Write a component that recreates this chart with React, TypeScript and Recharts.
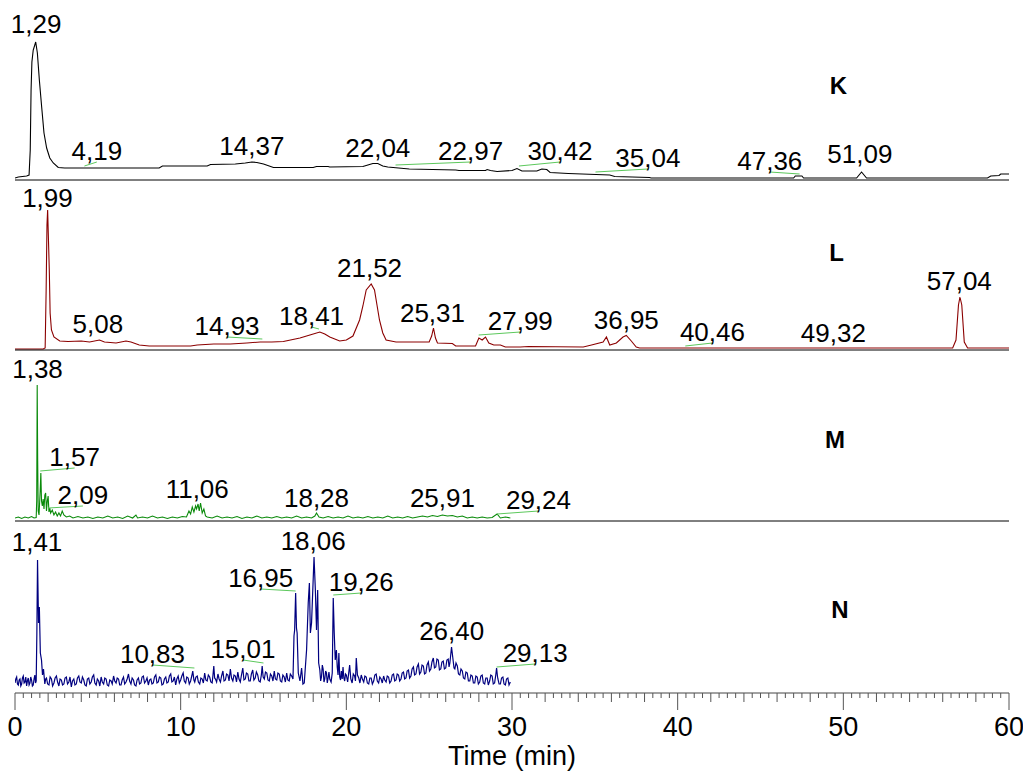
import React from 'react';
import { LineChart, Line, XAxis, YAxis, ReferenceLine, ReferenceDot } from 'recharts';

// ---------- DATA (time in min, signal in relative units) ----------
const traceK: [number, number][] = [
  [0, 2], [0.2, 3], [0.7, 4], [0.85, 5], [0.92, 30], [0.97, 90], [1.02, 118], [1.1, 130], [1.25, 138],
  [1.35, 127], [1.47, 100], [1.61, 73], [1.75, 47], [1.91, 32], [2.1, 22], [2.31, 17], [2.61, 12.5],
  [3.0, 12], [5, 12], [8.7, 12], [8.9, 14], [11.6, 14], [11.8, 15.5], [13.3, 16], [13.9, 17], [14.3, 18],
  [14.6, 17.5], [15.0, 16], [15.6, 12.5], [18.0, 12.5], [18.2, 13.5], [18.9, 13.5], [19.0, 13], [21.0, 13.5],
  [21.3, 15], [21.6, 16.5], [21.9, 16.5], [22.2, 14], [22.5, 13], [23.8, 11], [26.6, 10], [26.8, 9.5],
  [28.4, 9.5], [28.5, 10.5], [28.7, 9.5], [29.1, 8.5], [30.0, 9.5], [30.3, 11.5], [30.6, 9], [31.5, 9],
  [31.8, 11], [32.1, 10.5], [32.3, 7.5], [33.4, 6.5], [35.9, 5], [36.2, 3.5], [38.3, 2.5], [38.4, 2],
  [47.0, 2], [47.1, 4], [47.5, 4], [47.6, 2], [50.8, 2], [51.1, 8], [51.4, 2], [58.7, 2], [58.9, 4],
  [59.4, 4.5], [59.5, 6], [60, 6],
];

const traceL: [number, number][] = [
  [0, 1], [1.7, 1], [1.82, 2], [1.88, 60], [1.93, 125], [1.97, 140], [2.02, 110], [2.07, 80], [2.12, 37],
  [2.2, 20], [2.35, 13], [2.7, 9], [3.2, 8.5], [4.0, 9], [4.5, 8], [5.1, 10], [5.4, 8], [6.1, 7], [6.7, 9],
  [7.0, 8], [7.5, 5], [8.1, 4], [10.6, 4], [11.0, 5], [12.0, 6], [13.0, 6], [14.0, 7], [14.8, 8], [15.5, 8],
  [16.2, 8.5], [17.2, 12], [17.8, 15], [18.4, 18], [18.7, 16], [19.0, 13], [19.6, 9], [20.0, 10], [20.4, 14],
  [20.8, 30], [21.0, 44], [21.2, 60], [21.5, 66], [21.7, 60], [21.85, 45], [22.0, 30], [22.2, 17], [22.4, 10],
  [23.0, 8], [25.0, 8], [25.15, 14], [25.26, 22], [25.38, 12], [25.5, 7], [26.4, 6.5], [26.6, 4], [27.8, 4],
  [28.0, 12], [28.2, 10], [28.4, 13], [28.6, 7], [28.9, 5], [29.3, 5], [29.6, 3], [30.5, 3], [31.0, 3.5],
  [34.3, 3], [34.8, 5], [35.5, 8], [35.7, 13], [35.9, 5], [36.3, 7], [36.7, 13], [36.9, 14.5], [37.2, 9],
  [37.5, 3], [37.7, 2], [56.6, 2], [56.8, 10], [56.95, 45], [57.04, 53], [57.15, 45], [57.3, 8], [57.5, 2],
  [60, 2],
];

const traceM: [number, number][] = [
  [0, 3], [0.2, 4], [0.4, 2.5], [0.6, 4], [0.8, 3], [1.0, 4.5], [1.15, 3], [1.28, 3.5], [1.31, 20], [1.34, 136],
  [1.37, 60], [1.40, 10], [1.45, 6], [1.52, 30], [1.56, 48], [1.6, 20], [1.65, 15], [1.7, 22], [1.75, 12],
  [1.8, 26], [1.85, 28], [1.9, 10], [1.95, 20], [2.0, 25], [2.05, 9], [2.1, 13], [2.15, 8], [2.25, 11],
  [2.35, 6], [2.45, 9], [2.55, 5], [2.65, 8], [2.75, 5], [2.85, 10], [2.95, 6], [3.1, 4], [3.3, 5], [3.5, 3],
  [3.8, 4.5], [4.1, 3], [4.4, 4], [4.7, 2.5], [5.0, 4], [5.3, 3], [5.6, 5], [5.9, 3], [6.2, 4], [6.5, 2.5],
  [6.8, 5], [7.1, 3], [7.3, 6], [7.4, 3], [7.7, 4], [8.0, 3], [8.3, 5], [8.6, 3], [8.9, 4], [9.2, 2.5],
  [9.5, 4], [9.8, 3], [10.1, 4.5], [10.35, 4], [10.5, 10], [10.6, 7], [10.7, 14], [10.8, 9], [10.9, 15],
  [10.96, 12], [11.05, 17], [11.12, 10], [11.2, 18], [11.3, 8], [11.4, 12], [11.5, 5], [11.6, 4], [11.9, 3],
  [12.2, 5], [12.5, 3], [12.8, 4], [13.1, 3], [13.4, 4.5], [13.7, 2.5], [14.0, 4], [14.3, 3], [14.6, 5],
  [14.9, 3], [15.2, 4], [15.5, 3], [15.8, 4.5], [16.1, 3], [16.4, 4], [16.7, 3], [17.0, 5], [17.3, 3],
  [17.6, 4], [17.9, 3], [18.1, 5], [18.2, 8], [18.35, 4], [18.6, 3], [18.9, 4.5], [19.2, 3], [19.5, 4],
  [19.8, 3], [20.1, 5], [20.4, 3], [20.7, 4], [21.0, 3], [21.3, 4.5], [21.6, 3], [21.9, 4], [22.2, 3],
  [22.5, 5], [22.8, 3], [23.1, 4], [23.4, 3], [23.7, 4.5], [24.0, 3], [24.3, 4], [24.6, 5], [24.9, 4],
  [25.2, 5.5], [25.5, 4.5], [25.8, 6], [26.1, 5], [26.4, 5.5], [26.7, 4], [27.0, 5], [27.3, 3], [27.6, 4],
  [27.9, 3], [28.2, 4], [28.5, 3], [28.8, 3.5], [29.1, 7], [29.3, 3], [29.6, 4], [29.9, 3],
];

const traceN: [number, number][] = [
  [0, 10], [0.05, 14], [0.1, 16], [0.15, 9], [0.2, 8], [0.25, 13], [0.3, 14], [0.35, 7], [0.4, 9], [0.45, 15],
  [0.5, 17], [0.55, 10], [0.6, 11], [0.65, 16], [0.7, 7], [0.75, 12], [0.8, 15], [0.85, 8], [0.9, 10],
  [0.95, 16], [1.0, 13], [1.05, 7], [1.1, 8], [1.15, 14], [1.2, 18], [1.24, 10], [1.28, 12], [1.32, 60],
  [1.36, 133], [1.42, 70], [1.47, 86], [1.53, 40], [1.6, 33], [1.66, 18], [1.72, 24], [1.8, 9], [1.85, 14],
  [1.9, 15], [1.97, 9], [2.05, 8], [2.12, 16], [2.2, 14], [2.27, 7], [2.35, 10], [2.42, 15], [2.5, 17],
  [2.57, 11], [2.65, 7], [2.72, 14], [2.8, 13], [2.87, 8], [2.95, 9], [3.02, 15], [3.1, 16], [3.17, 9],
  [3.25, 11], [3.32, 16], [3.4, 6], [3.47, 12], [3.55, 14], [3.62, 8], [3.7, 9], [3.77, 15], [3.85, 17],
  [3.92, 11], [4.0, 10], [4.07, 16], [4.15, 13], [4.22, 8], [4.3, 7], [4.37, 14], [4.45, 15], [4.52, 9],
  [4.6, 11], [4.67, 16], [4.75, 18], [4.82, 10], [4.9, 8], [4.97, 14], [5.05, 12], [5.12, 7], [5.2, 16],
  [5.27, 11], [5.35, 9], [5.42, 15], [5.5, 14], [5.57, 8], [5.65, 7], [5.72, 13], [5.8, 12], [5.87, 9],
  [5.95, 17], [6.02, 12], [6.1, 10], [6.17, 15], [6.25, 14], [6.32, 8], [6.4, 8], [6.47, 13], [6.55, 16],
  [6.62, 9], [6.7, 11], [6.77, 14], [6.85, 19], [6.92, 12], [7.0, 9], [7.07, 15], [7.15, 13], [7.22, 8],
  [7.3, 7], [7.37, 13], [7.45, 15], [7.52, 9], [7.6, 10], [7.67, 16], [7.75, 17], [7.82, 10], [7.9, 12],
  [7.97, 15], [8.05, 8], [8.12, 13], [8.2, 14], [8.27, 9], [8.35, 10], [8.42, 16], [8.5, 18], [8.57, 10],
  [8.65, 11], [8.72, 16], [8.8, 15], [8.87, 8], [8.95, 9], [9.02, 14], [9.1, 16], [9.17, 10], [9.25, 11],
  [9.32, 17], [9.4, 19], [9.47, 11], [9.55, 12], [9.62, 16], [9.7, 8], [9.77, 14], [9.85, 17], [9.92, 10],
  [10.0, 13], [10.07, 17], [10.15, 20], [10.22, 12], [10.3, 10], [10.37, 16], [10.45, 15], [10.52, 9],
  [10.6, 12], [10.67, 17], [10.73, 22], [10.8, 13], [10.85, 11], [10.92, 16], [11.0, 17], [11.07, 11],
  [11.15, 9], [11.22, 15], [11.3, 14], [11.37, 10], [11.45, 20], [11.52, 13], [11.6, 12], [11.67, 18],
  [11.75, 16], [11.82, 11], [11.9, 10], [11.95, 18], [12.0, 27], [12.05, 15], [12.1, 14], [12.17, 11],
  [12.25, 19], [12.32, 14], [12.4, 11], [12.47, 17], [12.55, 22], [12.62, 12], [12.7, 13], [12.77, 19],
  [12.85, 18], [12.92, 12], [13.0, 24], [13.07, 15], [13.15, 12], [13.22, 18], [13.3, 17], [13.37, 11],
  [13.45, 21], [13.52, 14], [13.6, 11], [13.67, 18], [13.75, 25], [13.82, 13], [13.9, 14], [13.97, 20],
  [14.05, 19], [14.12, 12], [14.2, 12], [14.27, 19], [14.35, 23], [14.42, 13], [14.5, 15], [14.57, 21],
  [14.65, 18], [14.72, 12], [14.8, 11], [14.87, 18], [14.92, 27], [14.98, 16], [15.05, 14], [15.12, 21],
  [15.2, 20], [15.27, 13], [15.35, 12], [15.42, 19], [15.5, 17], [15.57, 12], [15.65, 22], [15.72, 14],
  [15.8, 13], [15.87, 20], [15.95, 19], [16.02, 12], [16.1, 11], [16.17, 18], [16.25, 16], [16.32, 11],
  [16.4, 20], [16.47, 13], [16.55, 12], [16.62, 19], [16.7, 17], [16.78, 14], [16.84, 57], [16.88, 63],
  [16.94, 100], [16.99, 65], [17.03, 60], [17.1, 20], [17.2, 12], [17.3, 25], [17.38, 9], [17.46, 10],
  [17.6, 43], [17.7, 90], [17.77, 110], [17.83, 60], [17.9, 70], [18.05, 136], [18.13, 103], [18.2, 63],
  [18.27, 103], [18.33, 30], [18.4, 23], [18.45, 12], [18.5, 16], [18.55, 28], [18.6, 24], [18.65, 11],
  [18.7, 14], [18.75, 22], [18.8, 20], [18.85, 10], [18.9, 15], [18.95, 21], [19.0, 14], [19.08, 11],
  [19.15, 20], [19.21, 95], [19.27, 60], [19.33, 33], [19.4, 43], [19.45, 26], [19.5, 18], [19.55, 40],
  [19.6, 16], [19.65, 13], [19.7, 22], [19.75, 14], [19.8, 26], [19.85, 15], [19.9, 12], [19.95, 19],
  [20.0, 18], [20.08, 11], [20.2, 28], [20.27, 14], [20.35, 10], [20.42, 19], [20.5, 17], [20.55, 12],
  [20.6, 35], [20.67, 18], [20.75, 15], [20.82, 10], [20.9, 18], [20.97, 14], [21.05, 11], [21.12, 17],
  [21.2, 16], [21.27, 10], [21.35, 9], [21.42, 15], [21.5, 15], [21.57, 9], [21.65, 12], [21.72, 18],
  [21.8, 19], [21.87, 12], [21.95, 10], [22.02, 16], [22.1, 14], [22.17, 10], [22.25, 17], [22.32, 13],
  [22.4, 11], [22.47, 17], [22.55, 16], [22.62, 10], [22.7, 12], [22.77, 18], [22.85, 19], [22.92, 12],
  [23.0, 13], [23.07, 19], [23.15, 18], [23.22, 12], [23.3, 14], [23.37, 20], [23.45, 21], [23.52, 14],
  [23.6, 15], [23.67, 22], [23.75, 23], [23.82, 15], [23.9, 17], [23.97, 24], [24.05, 26], [24.12, 18],
  [24.2, 19], [24.27, 26], [24.35, 29], [24.42, 19], [24.5, 21], [24.57, 28], [24.65, 27], [24.72, 19],
  [24.8, 20], [24.87, 28], [24.95, 31], [25.02, 22], [25.1, 24], [25.17, 31], [25.25, 35], [25.32, 25],
  [25.4, 26], [25.47, 34], [25.55, 33], [25.62, 23], [25.7, 24], [25.77, 31], [25.85, 32], [25.92, 24],
  [26.0, 25], [26.07, 33], [26.15, 34], [26.2, 26], [26.25, 30], [26.35, 46], [26.45, 32], [26.5, 25],
  [26.55, 24], [26.62, 30], [26.7, 27], [26.77, 19], [26.85, 18], [26.92, 24], [27.0, 22], [27.07, 15],
  [27.15, 14], [27.22, 21], [27.3, 20], [27.37, 12], [27.45, 12], [27.52, 18], [27.6, 17], [27.67, 10],
  [27.75, 10], [27.82, 17], [27.9, 16], [27.97, 9], [28.05, 11], [28.12, 17], [28.2, 18], [28.27, 10],
  [28.35, 9], [28.42, 15], [28.5, 15], [28.57, 8], [28.65, 12], [28.72, 18], [28.8, 17], [28.87, 9],
  [28.95, 10], [29.02, 18], [29.07, 25], [29.12, 17], [29.15, 14], [29.22, 9], [29.3, 9], [29.37, 15],
  [29.45, 16], [29.52, 9], [29.6, 8], [29.67, 14], [29.75, 15], [29.82, 8], [29.9, 11],
];

// Peak annotations: text, label anchor (time, signal), optional peak point for leader line
type Ann = { text: string; t: number; v: number; pt?: number; pv?: number };

const labelsK: Ann[] = [
  { text: '1,29', t: 1.27, v: 145 },
  { text: '4,19', t: 4.94, v: 18, pt: 4.19, pv: 14 },
  { text: '14,37', t: 14.3, v: 23 },
  { text: '22,04', t: 21.9, v: 21 },
  { text: '22,97', t: 27.5, v: 18, pt: 22.97, pv: 15 },
  { text: '30,42', t: 32.9, v: 18, pt: 30.42, pv: 14 },
  { text: '35,04', t: 38.2, v: 11, pt: 35.04, pv: 8 },
  { text: '47,36', t: 45.56, v: 8, pt: 47.36, pv: 6 },
  { text: '51,09', t: 51.0, v: 15 },
];

const labelsL: Ann[] = [
  { text: '1,99', t: 1.96, v: 141 },
  { text: '5,08', t: 5.0, v: 15 },
  { text: '14,93', t: 12.8, v: 13, pt: 14.93, pv: 11 },
  { text: '18,41', t: 17.9, v: 23, pt: 18.35, pv: 21 },
  { text: '21,52', t: 21.4, v: 71 },
  { text: '25,31', t: 25.2, v: 26 },
  { text: '27,99', t: 30.5, v: 18, pt: 27.99, pv: 15 },
  { text: '36,95', t: 36.9, v: 19 },
  { text: '40,46', t: 42.1, v: 7, pt: 40.46, pv: 4 },
  { text: '49,32', t: 49.4, v: 6 },
  { text: '57,04', t: 57.0, v: 58 },
];

const labelsM: Ann[] = [
  { text: '1,38', t: 1.36, v: 141 },
  { text: '1,57', t: 3.6, v: 53, pt: 1.52, pv: 50 },
  { text: '2,09', t: 4.1, v: 15, pt: 2.0, pv: 13 },
  { text: '11,06', t: 11.0, v: 21 },
  { text: '18,28', t: 18.2, v: 12 },
  { text: '25,91', t: 25.8, v: 12 },
  { text: '29,24', t: 31.6, v: 10, pt: 29.1, pv: 7 },
];

const labelsN: Ann[] = [
  { text: '1,41', t: 1.33, v: 140 },
  { text: '10,83', t: 8.3, v: 28, pt: 10.83, pv: 25 },
  { text: '15,01', t: 13.76, v: 33, pt: 15.0, pv: 30 },
  { text: '16,95', t: 14.83, v: 104, pt: 16.94, pv: 102 },
  { text: '18,06', t: 18.0, v: 141 },
  { text: '19,26', t: 20.9, v: 100, pt: 19.21, pv: 98 },
  { text: '26,40', t: 26.36, v: 51 },
  { text: '29,13', t: 31.4, v: 29, pt: 29.07, pv: 26 },
];

// Sample names and where they are written (time, signal)
const sampleNames = ['K', 'L', 'M', 'N'];
const sampleNamePos: [number, number][] = [[49.7, 86], [49.6, 89], [49.5, 73], [49.8, 75]];

const majorTickLabels = [0, 10, 20, 30, 40, 50, 60];
const axisTitle = 'Time (min)';

// ---------- RENDERING ----------
const FONT = '"Liberation Sans", Arial, Helvetica, sans-serif';
const LEADER = '#5cc85c';
const W = 1023;
const MARGIN = { top: 0, right: 14, left: 15, bottom: 0 };

const minorTicks: number[] = [];
for (let i = 0; i <= 120; i++) minorTicks.push(i / 2);

const toRows = (tr: [number, number][]) => tr.map(([t, v]) => ({ t, v }));

const TimeTick = (props: any) => {
  const { x, y, payload } = props;
  const val = payload.value as number;
  const isMajor = majorTickLabels.includes(val);
  const isMid = !isMajor && Math.abs(val % 2) < 1e-9;
  const len = isMajor ? 17 : isMid ? 9 : 5;
  return (
    <g>
      <line x1={x} y1={y} x2={x} y2={y + len} stroke="#555" strokeWidth={1} />
      {isMajor && (
        <text x={x} y={y + 43} textAnchor="middle" fontSize={27} fontFamily={FONT} fill="#000">
          {String(val)}
        </text>
      )}
    </g>
  );
};

type PanelProps = {
  top: number;
  plotH: number;
  data: [number, number][];
  color: string;
  width: number;
  labels: Ann[];
  name: string;
  namePos: [number, number];
  bottom?: boolean;
};

const Panel = ({ top, plotH, data, color, width, labels, name, namePos, bottom }: PanelProps) => {
  const axisH = bottom ? 80 : 1;
  return (
    <div style={{ position: 'absolute', left: 0, top, width: W, height: plotH + axisH }}>
      <LineChart width={W} height={plotH + axisH} data={toRows(data)} margin={MARGIN}>
        <XAxis
          dataKey="t"
          type="number"
          domain={[0, 60]}
          allowDataOverflow
          height={axisH}
          axisLine={{ stroke: bottom ? '#444' : '#000', strokeWidth: 1 }}
          tickLine={false}
          ticks={bottom ? minorTicks : []}
          interval={0}
          tickSize={0}
          tickMargin={0}
          tick={bottom ? <TimeTick /> : false}
          label={
            bottom
              ? {
                  value: axisTitle,
                  position: 'insideBottom',
                  offset: 8,
                  style: { fontSize: 27, fontFamily: FONT, fill: '#000' },
                }
              : undefined
          }
        />
        <YAxis hide type="number" domain={[0, plotH]} allowDataOverflow />
        <Line
          type="linear"
          dataKey="v"
          stroke={color}
          strokeWidth={width}
          dot={false}
          isAnimationActive={false}
        />
        {labels
          .filter((a) => a.pt !== undefined)
          .map((a, i) => (
            <ReferenceLine
              key={'ld' + i}
              segment={[
                { x: a.pt as number, y: a.pv as number },
                { x: a.t, y: a.v },
              ]}
              stroke={LEADER}
              strokeWidth={1}
              ifOverflow="visible"
            />
          ))}
        {labels.map((a, i) => (
          <ReferenceDot
            key={'lb' + i}
            x={a.t}
            y={a.v}
            r={0}
            ifOverflow="visible"
            shape={(p: any) => (
              <text
                x={p.cx}
                y={p.cy - 2}
                textAnchor="middle"
                fontSize={26}
                fontFamily={FONT}
                fill="#000"
              >
                {a.text}
              </text>
            )}
          />
        ))}
        <ReferenceDot
          x={namePos[0]}
          y={namePos[1]}
          r={0}
          ifOverflow="visible"
          shape={(p: any) => (
            <text
              x={p.cx}
              y={p.cy}
              textAnchor="middle"
              fontSize={24}
              fontWeight="bold"
              fontFamily={FONT}
              fill="#000"
            >
              {name}
            </text>
          )}
        />
      </LineChart>
    </div>
  );
};

export default function App() {
  return (
    <div style={{ position: 'absolute', left: 0, top: 0, width: W, height: 773, background: '#fff' }}>
      <Panel top={0} plotH={180} data={traceK} color="#000000" width={1.1} labels={labelsK} name={sampleNames[0]} namePos={sampleNamePos[0]} />
      <Panel top={180} plotH={170} data={traceL} color="#8b0000" width={1.1} labels={labelsL} name={sampleNames[1]} namePos={sampleNamePos[1]} />
      <Panel top={350} plotH={171} data={traceM} color="#0a8a0a" width={1.1} labels={labelsM} name={sampleNames[2]} namePos={sampleNamePos[2]} />
      <Panel top={521} plotH={172} data={traceN} color="#000080" width={1.2} labels={labelsN} name={sampleNames[3]} namePos={sampleNamePos[3]} bottom />
    </div>
  );
}
